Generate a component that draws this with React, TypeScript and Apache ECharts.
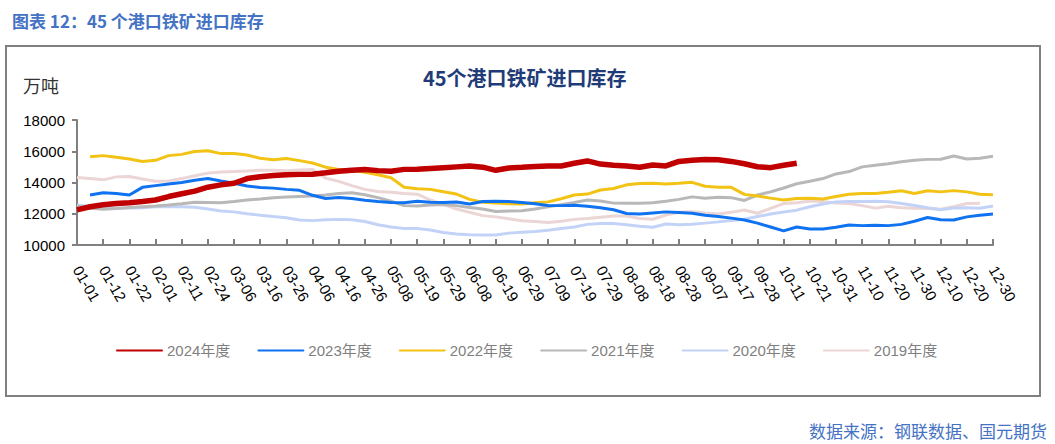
import React, { useEffect, useRef } from "react";
import * as echarts from "echarts";

const categories = [
  "01-01","01-06","01-12","01-17","01-22","01-26","02-01","02-06","02-11","02-18",
  "02-24","02-29","03-06","03-11","03-16","03-21","03-26","03-31","04-06","04-11",
  "04-16","04-21","04-26","05-02","05-08","05-13","05-19","05-24","05-29","06-03",
  "06-08","06-13","06-19","06-24","06-29","07-04","07-09","07-14","07-19","07-24",
  "07-29","08-03","08-08","08-13","08-18","08-23","08-28","09-02","09-07","09-12",
  "09-17","09-22","09-28","10-04","10-11","10-16","10-21","10-26","10-31","11-05",
  "11-10","11-15","11-20","11-25","11-30","12-05","12-10","12-15","12-20","12-25",
  "12-30",
];

const y2024 = [
  12250,12450,12580,12650,12700,12780,12880,13100,13280,13450,
  13700,13850,13950,14250,14370,14450,14500,14520,14530,14620,
  14720,14790,14830,14760,14720,14840,14850,14900,14950,15000,
  15050,14980,14780,14930,14970,15020,15050,15060,15230,15380,
  15180,15100,15050,14980,15120,15060,15350,15420,15470,15450,
  15350,15200,15010,14950,15100,15230,
  null,null,null,null,null,null,null,null,null,null,null,null,null,null,null,
];
const y2023 = [
  null,13200,13350,13300,13200,13690,13800,13900,14000,14150,
  14260,14100,13950,13780,13680,13640,13560,13500,13180,12980,
  13040,12980,12870,12780,12720,12700,12800,12740,12720,12750,
  12620,12780,12800,12780,12720,12640,12530,12520,12540,12480,
  12390,12260,12020,11980,12050,12120,12080,12030,11900,11830,
  11720,11600,11400,11150,10900,11150,11030,11020,11130,11280,
  11240,11260,11240,11320,11520,11760,11620,11600,11800,11900,
  11980,
];
const y2022 = [
  null,15650,15720,15620,15500,15350,15420,15720,15800,15980,
  16030,15850,15850,15760,15550,15460,15540,15400,15250,14980,
  14830,14780,14650,14500,14300,13700,13600,13560,13410,13260,
  12920,12740,12680,12640,12620,12700,12760,12960,13200,13260,
  13520,13620,13850,13930,13950,13900,13950,14010,13760,13690,
  13690,13240,13140,13000,12880,12980,12990,12940,13100,13250,
  13300,13300,13380,13470,13300,13470,13400,13480,13400,13250,
  13220,
];
const y2021 = [
  12500,12350,12290,12330,12400,12450,12500,12560,12640,12740,
  12720,12700,12780,12880,12940,13030,13070,13110,13140,13200,
  13300,13340,13220,13030,12800,12520,12500,12560,12590,12520,
  12400,12300,12140,12170,12190,12300,12450,12580,12720,12880,
  12820,12680,12670,12670,12700,12800,12920,13080,12990,13050,
  13030,12850,13200,13400,13650,13920,14080,14250,14550,14700,
  15000,15100,15200,15330,15420,15480,15490,15700,15500,15550,
  15680,
];
const y2020 = [
  12560,12470,12380,12350,12360,12390,12440,12460,12450,12420,
  12300,12180,12120,12000,11900,11820,11750,11600,11560,11620,
  11640,11620,11500,11300,11150,11050,11050,10960,10800,10700,
  10660,10640,10640,10760,10820,10870,10950,11050,11150,11320,
  11380,11380,11290,11200,11140,11340,11300,11330,11400,11480,
  11570,11650,11820,11980,12110,12230,12450,12620,12760,12780,
  12780,12800,12770,12650,12530,12380,12250,12370,12390,12350,
  12500,
];
const y2019 = [
  14320,14250,14170,14360,14380,14220,14080,14100,14250,14430,
  14600,14670,14700,14740,14790,14780,14760,14800,14830,14280,
  14070,13800,13560,13430,13380,13300,13250,12880,12600,12300,
  12100,11880,11800,11680,11550,11500,11440,11520,11640,11690,
  11780,11860,11860,11700,11650,11920,12100,12130,12050,11990,
  12100,12240,12030,12340,12650,12700,12820,12790,12680,12660,
  12520,12360,12480,12380,12350,12330,12290,12450,12660,12670,
  null,
];

const seriesNames = ["2024年度", "2023年度", "2022年度", "2021年度", "2020年度", "2019年度"];
const seriesData = [y2024, y2023, y2022, y2021, y2020, y2019];
const seriesColors = ["#C00000", "#0F72F0", "#F2C314", "#B8B8B8", "#C3D3F7", "#EBD5D5"];
const seriesWidths = [5.5, 3, 3, 3, 3, 3];

const FONT = "'Liberation Sans', 'Noto Sans CJK SC', sans-serif";
const CJK = "'Noto Sans CJK SC', sans-serif";

export default function App() {
  const ref = useRef<HTMLDivElement>(null);
  useEffect(() => {
    if (!ref.current) return;
    const chart = echarts.init(ref.current, null, { renderer: "svg" });
    const series = seriesNames.map((name, i) => ({
      name,
      type: "line",
      data: seriesData[i],
      symbol: "none",
      z: 10 - i,
      lineStyle: { color: seriesColors[i], width: seriesWidths[i] },
      itemStyle: { color: seriesColors[i] },
    }));
    chart.setOption({
      animation: false,
      backgroundColor: "#fff",
      title: [
        {
          text: "图表 12：45 个港口铁矿进口库存",
          left: 7,
          top: 7,
          textStyle: { color: "#4472C4", fontSize: 17, fontWeight: "bold", fontFamily: CJK },
        },
        {
          text: "45个港口铁矿进口库存",
          left: 418,
          top: 62,
          textStyle: { color: "#1F3C78", fontSize: 20, fontWeight: "bold", fontFamily: CJK },
        },
        {
          text: "万吨",
          left: 18,
          top: 71,
          textStyle: { color: "#333", fontSize: 18, fontWeight: "normal", fontFamily: CJK },
        },
        {
          text: "数据来源：钢联数据、国元期货",
          right: 3,
          top: 417,
          textStyle: { color: "#4472C4", fontSize: 17, fontWeight: "normal", fontFamily: CJK },
        },
      ],
      graphic: [
        {
          type: "rect",
          shape: { x: 6, y: 46, width: 1034, height: 350 },
          style: { fill: "none", stroke: "#808080", lineWidth: 2 },
          z: -1,
        },
      ],
      legend: {
        data: seriesNames,
        left: 111,
        top: 338,
        itemWidth: 45,
        itemHeight: 14,
        itemGap: 27,
        itemStyle: { opacity: 0 },
        lineStyle: { cap: "round" },
        textStyle: { color: "#7F7F7F", fontSize: 15, fontFamily: FONT },
      },
      grid: { left: 77, right: 62, top: 120, bottom: 199, containLabel: false },
      xAxis: {
        type: "category",
        data: categories,
        boundaryGap: false,
        axisLine: { lineStyle: { color: "#808080", width: 2 } },
        axisTick: { inside: true, length: 6, interval: 1, lineStyle: { color: "#808080", width: 2 } },
        axisLabel: {
          interval: 1,
          rotate: -60,
          margin: 22,
          color: "#000",
          fontSize: 15,
          fontFamily: FONT,
        },
        splitLine: { show: false },
      },
      yAxis: {
        type: "value",
        min: 10000,
        max: 18000,
        interval: 2000,
        axisLine: { show: true, lineStyle: { color: "#808080", width: 2 } },
        axisTick: { show: true, length: 5, lineStyle: { color: "#808080", width: 2 } },
        axisLabel: {
          color: "#000",
          fontSize: 15,
          margin: 12,
          fontFamily: FONT,
          formatter: (v: number) => String(v),
        },
        splitLine: { show: false },
      },
      series,
    });
    return () => chart.dispose();
  }, []);
  return (
    <div
      ref={ref}
      style={{ position: "fixed", left: 0, top: 0, width: 1055, height: 444, background: "#fff" }}
    />
  );
}
